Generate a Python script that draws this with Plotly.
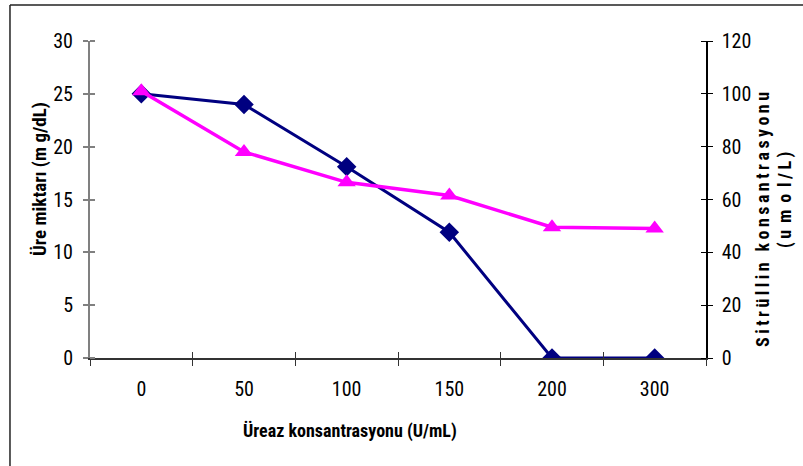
import plotly.graph_objects as go

categories = ["0", "50", "100", "150", "200", "300"]
ure_values = [25, 24, 18.1, 11.9, 0, 0]
sitrullin_values = [101, 78, 66.5, 61.5, 49.5, 49]
left_ticks = [0, 5, 10, 15, 20, 25, 30]
right_ticks = [0, 20, 40, 60, 80, 100, 120]

NAVY = "#000080"
MAG = "#FF00FF"
COND = "Roboto Condensed, Liberation Sans, Arial"
TICKFONT = dict(family=COND, size=20, color="black")
TS = "\u2009"

def spaced(s):
    return TS.join(list(s))

unit_line2 = "(" + TS + "u" + TS * 2 + "m" + TS * 2 + "o" + TS * 2 + "l" + TS + "/" + TS + "L" + TS + ")"

fig = go.Figure()
fig.add_trace(go.Scatter(x=categories, y=ure_values, mode="lines+markers",
                         line=dict(color=NAVY, width=3),
                         marker=dict(symbol="diamond", size=15, color=NAVY),
                         showlegend=False, yaxis="y"))
fig.add_trace(go.Scatter(x=categories, y=sitrullin_values, mode="lines+markers",
                         line=dict(color=MAG, width=3.5),
                         marker=dict(symbol="triangle-up", size=16, color=MAG),
                         showlegend=False, yaxis="y2"))
# invisible helper trace so the overlay x-axis (inner tick halves) gets categories
fig.add_trace(go.Scatter(x=categories, y=ure_values, mode="markers",
                         marker=dict(opacity=0, size=1), hoverinfo="skip",
                         showlegend=False, xaxis="x2", yaxis="y"))

fig.update_layout(
    width=803, height=466,
    margin=dict(l=90, r=97, t=41, b=108),
    paper_bgcolor="white", plot_bgcolor="white",
    xaxis=dict(type="category", categoryorder="array", categoryarray=categories,
               range=[-0.5, 5.5], tickson="boundaries", ticks="outside", ticklen=6,
               tickcolor="#333333", tickwidth=1, showline=True, linecolor="#333333",
               linewidth=1.5, showgrid=False, zeroline=False, tickfont=TICKFONT,
               ticklabelstandoff=12),
    xaxis2=dict(type="category", categoryorder="array", categoryarray=categories,
                range=[-0.5, 5.5], overlaying="x", side="bottom", tickson="boundaries",
                ticks="inside", ticklen=6, tickcolor="#333333", showticklabels=False,
                showgrid=False, zeroline=False, showline=False, anchor="y"),
    yaxis=dict(range=[0, 30], tickvals=left_ticks, ticks="outside", ticklen=5,
               tickcolor="#808080", tickwidth=1.5, showline=True, linecolor="#808080",
               linewidth=2, showgrid=False, zeroline=False, tickfont=TICKFONT,
               ticklabelstandoff=6,
               minor=dict(ticks="inside", tickvals=left_ticks, ticklen=5,
                          tickcolor="#808080", tickwidth=1.5, showgrid=False)),
    yaxis2=dict(range=[0, 120], tickvals=right_ticks, overlaying="y", side="right",
                ticks="outside", ticklen=5, tickcolor="black", tickwidth=1,
                showline=True, linecolor="black", linewidth=1.5, showgrid=False,
                zeroline=False, tickfont=TICKFONT, ticklabelstandoff=5,
                minor=dict(ticks="inside", tickvals=right_ticks, ticklen=5,
                           tickcolor="black", tickwidth=1, showgrid=False)),
)

annots = [
    dict(text="<b>Üreaz konsantrasyonu (U/mL)</b>", x=0.422, y=-0.230, textangle=0,
         font=dict(family=COND, size=18, color="black")),
    dict(text="<b>Üre miktarı (m g/dL)</b>", x=-0.081, y=0.565, textangle=-90,
         font=dict(family=COND, size=19, color="black")),
    dict(text="<b>" + spaced("Sitrüllin konsantrasyonu") + "</b>", x=1.0925, y=0.4385,
         textangle=-90, font=dict(family=COND, size=18, color="black")),
    dict(text="<b>" + unit_line2 + "</b>", x=1.128, y=0.498,
         textangle=-90, font=dict(family=COND, size=18, color="black")),
]
for a in annots:
    fig.add_annotation(xref="paper", yref="paper", xanchor="center", yanchor="middle",
                       showarrow=False, **a)

# chart-area frame (only top and left edges visible in the crop)
fig.add_shape(type="line", xref="paper", yref="paper", x0=-0.1299, x1=1.2,
              y0=1.1136, y1=1.1136, line=dict(color="#222222", width=1.5))
fig.add_shape(type="line", xref="paper", yref="paper", x0=-0.1299, x1=-0.1299,
              y0=1.1136, y1=-0.4, line=dict(color="#222222", width=1.5))

fig.write_html("out.html")
